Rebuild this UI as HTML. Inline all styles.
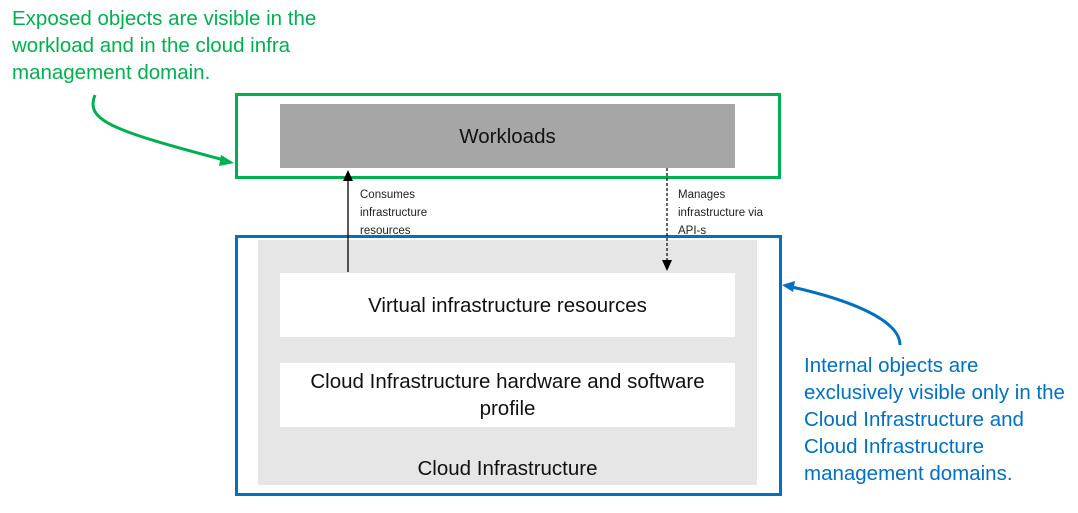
<!DOCTYPE html>
<html><head><style>
body{margin:0;width:1078px;height:513px;background:#fff;font-family:"Liberation Sans",sans-serif;position:relative;overflow:hidden}
.a{position:absolute}
.t{font-size:20.5px;line-height:27px;white-space:nowrap}
.s{font-size:11.5px;line-height:18px;color:#222}
.c{display:flex;align-items:center;justify-content:center;text-align:center;font-size:20.5px;line-height:27px;color:#111}
</style></head><body>
<div class="a t" style="left:12px;top:5px;color:#00b050">Exposed objects are visible in the<br>workload and in the cloud infra<br>management domain.</div>
<div class="a t" style="left:804px;top:352px;color:#0070c0">Internal objects are<br>exclusively visible only in the<br>Cloud Infrastructure and<br>Cloud Infrastructure<br>management domains.</div>
<div class="a" style="left:235px;top:93px;width:540px;height:80px;border:3px solid #00b050"></div>
<div class="a c" style="left:280px;top:104px;width:455px;height:64px;background:#a6a6a6">Workloads</div>
<div class="a" style="left:235px;top:235px;width:541px;height:255px;border:3px solid #0070c0"></div>
<div class="a" style="left:258px;top:240px;width:499px;height:245px;background:#e6e6e6"></div>
<div class="a c" style="left:280px;top:273px;width:455px;height:64px;background:#fff">Virtual infrastructure resources</div>
<div class="a c" style="left:280px;top:363px;width:455px;height:64px;background:#fff">Cloud Infrastructure hardware and software<br>profile</div>
<div class="a c" style="left:258px;top:455px;width:499px;height:27px">Cloud Infrastructure</div>
<div class="a s" style="left:360px;top:186px">Consumes<br>infrastructure<br>resources</div>
<div class="a s" style="left:678px;top:186px">Manages<br>infrastructure via<br>API-s</div>
<svg class="a" style="left:0;top:0" width="1078" height="513">
<line x1="348" y1="272" x2="348" y2="180" stroke="#000" stroke-width="1.3"/>
<polygon points="348,170 343,181 353,181" fill="#000"/>
<line x1="667" y1="168" x2="667" y2="261" stroke="#000" stroke-width="1.2" stroke-dasharray="3,2"/>
<polygon points="667,271 662,260 672,260" fill="#000"/>
<path d="M95,95 C85,120 110,130 224,160" fill="none" stroke="#00b050" stroke-width="3"/>
<polygon points="234,163 221,155 219,166" fill="#00b050"/>
<path d="M900,345 C900,320 850,300 792,287" fill="none" stroke="#0070c0" stroke-width="3"/>
<polygon points="782,285 795,281 793,292" fill="#0070c0"/>
</svg>
</body></html>
